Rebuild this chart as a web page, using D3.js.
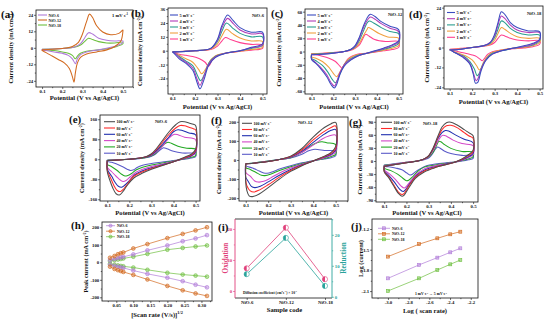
<!DOCTYPE html>
<html lang="en">
<head>
<meta charset="UTF-8">
<title>NiO electrochemistry panels</title>
<script src="https://d3js.org/d3.v7.min.js"></script>
<style>
  body { margin: 0; background: #fff; }
  svg { display: block; }
</style>
</head>
<body>
<svg id="chart" width="550" height="321"></svg>
<script>
// ---------- data ----------
const samples = ["NiO-6", "NiO-12", "NiO-18"];
const sampleColors = ["#b07bd8", "#d2691e", "#6ebf3f"];

const lowRates = ["5", "4", "3", "2", "1"];
const lowColors = ["#3b4cc0", "#b13bb8", "#2a9d8f", "#f0a040", "#ff3f8e"];
const highRates = ["100", "80", "60", "40", "20", "10"];
const highColors = ["#4d4d4d", "#ff2a2a", "#1f2faf", "#d348c8", "#23a823", "#5a5ac8"];

// (a) 1 mV/s, [potential V, current mA cm-2]
const aNiO6 = [[0.10,-1],[0.20,-0.5],[0.26,0.5],[0.29,3],[0.31,7],[0.33,11],[0.35,10],[0.38,7],[0.42,5.5],[0.46,5],[0.50,5],[0.50,4],[0.47,1.5],[0.43,0],[0.38,-1.5],[0.32,-3],[0.29,-5],[0.275,-8],[0.265,-11.5],[0.25,-8],[0.23,-5.5],[0.20,-4],[0.16,-3],[0.12,-2],[0.10,-1.5]];
const aNiO12 = [[0.10,-1.5],[0.15,-1],[0.20,-0.5],[0.25,1],[0.28,4],[0.30,10],[0.32,19],[0.335,24.5],[0.35,22],[0.37,16],[0.40,11.5],[0.44,9.5],[0.48,10.5],[0.50,13],[0.50,12],[0.49,5],[0.46,1],[0.42,-1.5],[0.37,-3],[0.32,-4.5],[0.29,-7],[0.275,-11],[0.265,-18],[0.258,-25],[0.25,-21],[0.235,-15],[0.21,-11],[0.18,-8.5],[0.15,-6],[0.12,-3.5],[0.10,-2]];
const aNiO18 = [[0.10,-1],[0.20,-0.5],[0.26,0.5],[0.29,2],[0.31,4.5],[0.33,7],[0.35,6],[0.38,4.5],[0.42,3.5],[0.46,3.5],[0.50,4],[0.50,3],[0.47,1],[0.43,-0.5],[0.38,-1.5],[0.32,-2.5],[0.29,-4],[0.275,-6],[0.265,-8],[0.25,-5.5],[0.23,-4],[0.20,-3],[0.16,-2],[0.12,-1.5],[0.10,-1]];

// (b) NiO-6, 5..1 mV/s
const b5 = [[0.10,-1],[0.20,0],[0.27,2],[0.30,10],[0.32,22],[0.345,31],[0.37,26],[0.40,20],[0.45,16],[0.50,16],[0.50,6],[0.45,3],[0.40,0],[0.34,-2],[0.29,-6],[0.26,-13],[0.24,-25],[0.222,-33],[0.21,-28],[0.19,-17],[0.16,-11],[0.13,-7],[0.11,-3]];
const b4 = [[0.10,-1],[0.20,0],[0.27,2],[0.30,9],[0.32,20],[0.345,28],[0.37,23.5],[0.40,18],[0.45,14.5],[0.50,14.5],[0.50,5],[0.45,2.5],[0.40,0],[0.34,-2],[0.29,-5.5],[0.26,-12],[0.24,-22],[0.222,-30],[0.21,-25],[0.19,-15],[0.16,-10],[0.13,-6],[0.11,-2]];
const b3 = [[0.10,-1],[0.20,0],[0.27,2],[0.30,8],[0.32,17],[0.34,24],[0.365,20],[0.40,15],[0.45,12],[0.50,12],[0.50,4.5],[0.45,2],[0.40,0],[0.34,-2],[0.29,-5],[0.26,-11],[0.245,-19],[0.225,-26],[0.21,-21],[0.19,-13],[0.16,-9],[0.13,-5],[0.11,-2]];
const b2 = [[0.10,-1],[0.20,0],[0.27,1.5],[0.30,6],[0.32,13],[0.34,18.5],[0.365,15],[0.40,11],[0.45,8.5],[0.50,8],[0.50,3],[0.45,1],[0.40,-0.5],[0.34,-2],[0.29,-4.5],[0.27,-8],[0.25,-15],[0.23,-20],[0.215,-16],[0.19,-10],[0.16,-7],[0.13,-4],[0.11,-2]];
const b1 = [[0.10,-1],[0.20,0],[0.27,1],[0.30,4],[0.32,8.5],[0.335,11.5],[0.36,9.5],[0.40,7],[0.45,5.5],[0.50,5],[0.50,2],[0.45,0.5],[0.40,-0.5],[0.34,-2],[0.30,-4],[0.28,-7],[0.26,-13.5],[0.245,-10],[0.22,-7],[0.19,-5],[0.16,-4],[0.13,-3],[0.11,-1.5]];

// (c) NiO-12, 5..1 mV/s
const c5 = [[0.10,-5],[0.15,-4],[0.20,-2.5],[0.25,0],[0.28,3],[0.30,9],[0.32,22],[0.34,40],[0.36,53],[0.37,56],[0.39,53],[0.42,45],[0.46,38],[0.50,33],[0.50,16],[0.47,10],[0.43,5],[0.39,1],[0.35,-3],[0.31,-7],[0.28,-13],[0.25,-22],[0.23,-35],[0.215,-50],[0.205,-55],[0.19,-50],[0.17,-38],[0.14,-25],[0.12,-18],[0.10,-12]];
const c4 = [[0.10,-5],[0.15,-4],[0.20,-2.5],[0.25,0],[0.28,3],[0.30,8],[0.32,20],[0.34,37],[0.36,49],[0.37,52],[0.39,49],[0.42,42],[0.46,35],[0.50,30],[0.50,14],[0.47,9],[0.43,4],[0.39,0.5],[0.35,-3],[0.31,-7],[0.28,-12],[0.25,-20],[0.23,-32],[0.215,-46],[0.205,-52],[0.19,-47],[0.17,-35],[0.14,-23],[0.12,-17],[0.10,-11]];
const c3 = [[0.10,-4],[0.15,-3.5],[0.20,-2],[0.25,0],[0.28,3],[0.30,7],[0.32,17],[0.34,32],[0.355,43],[0.365,46],[0.385,43],[0.42,36],[0.46,30],[0.50,27],[0.50,12],[0.47,7],[0.43,3],[0.39,0],[0.35,-3],[0.31,-6],[0.28,-11],[0.255,-18],[0.235,-30],[0.22,-42],[0.21,-47],[0.195,-42],[0.175,-31],[0.15,-21],[0.12,-14],[0.10,-10]];
const c2 = [[0.10,-3.5],[0.15,-3],[0.20,-2],[0.25,0],[0.28,2.5],[0.30,6],[0.32,13],[0.34,25],[0.355,33],[0.36,36],[0.38,33],[0.41,27],[0.45,22],[0.50,20],[0.50,9],[0.47,5],[0.43,2],[0.39,-0.5],[0.35,-3],[0.31,-5],[0.28,-9],[0.26,-15],[0.24,-25],[0.225,-34],[0.215,-38],[0.20,-33],[0.18,-24],[0.15,-15],[0.12,-10],[0.10,-8]];
const c1 = [[0.10,-3],[0.15,-2.5],[0.20,-1.5],[0.25,0],[0.28,2],[0.30,5],[0.32,10],[0.335,19],[0.345,25],[0.35,26],[0.365,23],[0.39,18],[0.44,15],[0.50,15],[0.50,6],[0.47,3],[0.43,1],[0.39,-1],[0.35,-2.5],[0.31,-4],[0.285,-7],[0.265,-12],[0.25,-20],[0.24,-25],[0.23,-22],[0.21,-15],[0.18,-10],[0.15,-7],[0.12,-5],[0.10,-4]];

// (d) NiO-18, 5..1 mV/s
const d5 = [[0.10,-1.5],[0.15,-1],[0.20,0],[0.25,1],[0.28,3],[0.30,8],[0.315,15],[0.33,21.5],[0.345,20],[0.37,15],[0.40,12],[0.45,10],[0.50,9.5],[0.50,5],[0.47,2.5],[0.43,1],[0.38,-0.5],[0.33,-2],[0.29,-4],[0.26,-8],[0.24,-14],[0.225,-21],[0.215,-21.5],[0.205,-16],[0.19,-10],[0.16,-6],[0.13,-3.5],[0.115,-2.5],[0.105,-1.5]];
const d4 = [[0.10,-1.5],[0.15,-1],[0.20,0],[0.25,1],[0.28,3],[0.30,7],[0.315,13.5],[0.33,19],[0.345,17.5],[0.37,13.5],[0.40,10.5],[0.45,9],[0.50,9],[0.50,4.5],[0.47,2],[0.43,0.5],[0.38,-0.5],[0.33,-2],[0.29,-4],[0.26,-7.5],[0.24,-13],[0.225,-19],[0.218,-20],[0.205,-15],[0.19,-9.5],[0.16,-5.5],[0.13,-3.5],[0.115,-2.5],[0.105,-1.5]];
const d3s = [[0.10,-1.5],[0.15,-1],[0.20,0],[0.25,1],[0.28,2.5],[0.30,6],[0.315,11],[0.33,16],[0.345,15],[0.37,11.5],[0.40,9],[0.45,7.5],[0.50,7.5],[0.50,4],[0.47,1.5],[0.43,0.5],[0.38,-0.5],[0.33,-2],[0.29,-3.5],[0.265,-6.5],[0.245,-11],[0.23,-16],[0.222,-17],[0.21,-13],[0.19,-8.5],[0.16,-5],[0.13,-3.5],[0.115,-2.5],[0.105,-1.5]];
const d2 = [[0.10,-1.2],[0.15,-0.8],[0.20,0],[0.25,1],[0.28,2],[0.30,4.5],[0.315,8.5],[0.33,12],[0.345,11],[0.37,8.5],[0.40,6.5],[0.45,5.5],[0.50,5.5],[0.50,3],[0.47,1],[0.43,0],[0.38,-0.5],[0.33,-1.5],[0.29,-3],[0.27,-5],[0.25,-9],[0.24,-12.5],[0.232,-13.5],[0.22,-11],[0.20,-7.5],[0.17,-5],[0.14,-3.5],[0.12,-2.5],[0.105,-1.5]];
const d1 = [[0.10,-1],[0.15,-0.5],[0.20,0],[0.25,0.8],[0.28,1.5],[0.30,3],[0.315,5.5],[0.33,7.5],[0.345,7],[0.37,5.5],[0.40,4.5],[0.45,4],[0.50,4],[0.50,2],[0.47,0.5],[0.43,-0.3],[0.38,-0.8],[0.33,-1.5],[0.29,-2.5],[0.27,-4],[0.255,-6.5],[0.245,-8],[0.235,-7],[0.22,-5.5],[0.20,-4.5],[0.17,-3.5],[0.14,-2.5],[0.12,-2],[0.105,-1.2]];

// (e) NiO-6, 100..10 mV/s
const e100 = [[0.10,-5],[0.15,-3],[0.20,0],[0.25,5],[0.28,12],[0.30,22],[0.32,40],[0.35,75],[0.38,110],[0.41,138],[0.43,150],[0.45,150],[0.47,145],[0.49,140],[0.50,135],[0.50,40],[0.48,20],[0.45,8],[0.40,-10],[0.35,-25],[0.30,-40],[0.26,-55],[0.22,-75],[0.19,-105],[0.17,-130],[0.155,-143],[0.14,-138],[0.125,-115],[0.11,-80],[0.10,-50]];
const e80 = [[0.10,-5],[0.15,-3],[0.20,0],[0.25,5],[0.28,11],[0.30,20],[0.32,36],[0.35,68],[0.38,100],[0.41,125],[0.43,135],[0.45,134],[0.47,128],[0.49,122],[0.50,118],[0.50,35],[0.48,17],[0.45,6],[0.40,-10],[0.35,-24],[0.30,-37],[0.26,-50],[0.22,-68],[0.195,-95],[0.175,-118],[0.16,-129],[0.145,-125],[0.13,-105],[0.115,-75],[0.10,-45]];
const e60 = [[0.10,-5],[0.15,-3],[0.20,0],[0.25,5],[0.28,10],[0.30,18],[0.32,32],[0.35,60],[0.38,90],[0.40,110],[0.42,118],[0.44,115],[0.47,105],[0.50,98],[0.50,30],[0.48,14],[0.45,5],[0.40,-10],[0.35,-22],[0.30,-34],[0.26,-46],[0.225,-62],[0.20,-85],[0.18,-103],[0.165,-112],[0.15,-108],[0.135,-92],[0.12,-68],[0.10,-40]];
const e40 = [[0.10,-5],[0.15,-3],[0.20,0],[0.25,5],[0.28,10],[0.30,16],[0.32,28],[0.35,52],[0.37,75],[0.39,93],[0.405,100],[0.42,98],[0.45,88],[0.50,78],[0.50,25],[0.48,12],[0.45,4],[0.40,-8],[0.35,-19],[0.30,-29],[0.26,-40],[0.23,-52],[0.205,-70],[0.185,-85],[0.172,-89],[0.16,-84],[0.14,-68],[0.12,-50],[0.10,-32]];
const e20 = [[0.10,-4],[0.15,-2],[0.20,0],[0.25,4],[0.28,8],[0.30,14],[0.32,25],[0.34,45],[0.36,62],[0.375,68],[0.39,64],[0.42,52],[0.46,44],[0.50,40],[0.50,15],[0.48,8],[0.45,2],[0.40,-7],[0.35,-15],[0.30,-23],[0.26,-32],[0.23,-43],[0.21,-57],[0.19,-66],[0.18,-67],[0.165,-60],[0.145,-45],[0.12,-30],[0.10,-20]];
const e10 = [[0.10,-3],[0.15,-2],[0.20,0],[0.25,3],[0.28,7],[0.30,12],[0.32,22],[0.34,38],[0.355,46],[0.37,42],[0.40,32],[0.44,25],[0.50,22],[0.50,10],[0.48,5],[0.45,0],[0.40,-5],[0.35,-11],[0.30,-17],[0.26,-24],[0.235,-33],[0.22,-42],[0.205,-45],[0.19,-40],[0.17,-30],[0.14,-18],[0.12,-12],[0.10,-8]];

// (f) NiO-12, 100..10 mV/s
const f100 = [[0.10,-20],[0.15,-15],[0.20,-8],[0.25,2],[0.30,20],[0.35,60],[0.40,120],[0.45,170],[0.48,190],[0.50,197],[0.50,70],[0.48,40],[0.45,20],[0.40,-5],[0.35,-30],[0.30,-60],[0.25,-100],[0.20,-145],[0.16,-178],[0.13,-192],[0.115,-188],[0.105,-160],[0.10,-120]];
const f80 = [[0.10,-20],[0.15,-15],[0.20,-8],[0.25,2],[0.30,18],[0.35,52],[0.40,105],[0.45,150],[0.48,170],[0.50,178],[0.50,60],[0.48,35],[0.45,18],[0.40,-5],[0.35,-28],[0.30,-55],[0.25,-90],[0.20,-130],[0.16,-158],[0.135,-168],[0.12,-162],[0.105,-135],[0.10,-105]];
const f60 = [[0.10,-20],[0.15,-15],[0.20,-8],[0.25,2],[0.30,16],[0.35,46],[0.40,92],[0.45,135],[0.48,155],[0.50,160],[0.50,52],[0.48,30],[0.45,15],[0.40,-5],[0.35,-25],[0.30,-50],[0.25,-80],[0.20,-115],[0.165,-138],[0.14,-145],[0.125,-138],[0.11,-110],[0.10,-90]];
const f40 = [[0.10,-20],[0.15,-15],[0.20,-7],[0.25,2],[0.30,14],[0.35,40],[0.40,78],[0.44,110],[0.47,125],[0.50,130],[0.50,42],[0.48,25],[0.45,12],[0.40,-5],[0.35,-22],[0.30,-42],[0.25,-68],[0.21,-95],[0.18,-112],[0.155,-116],[0.14,-110],[0.12,-85],[0.10,-65]];
const f20 = [[0.10,-20],[0.15,-14],[0.20,-6],[0.25,2],[0.30,12],[0.35,40],[0.39,75],[0.42,92],[0.44,95],[0.46,90],[0.50,80],[0.50,30],[0.48,18],[0.45,8],[0.40,-5],[0.35,-18],[0.30,-35],[0.25,-55],[0.21,-75],[0.185,-82],[0.17,-80],[0.15,-68],[0.12,-50],[0.10,-40]];
const f10 = [[0.10,-20],[0.15,-14],[0.20,-6],[0.25,2],[0.30,10],[0.35,30],[0.38,48],[0.40,55],[0.42,55],[0.45,50],[0.50,45],[0.50,22],[0.48,12],[0.45,5],[0.40,-4],[0.35,-15],[0.30,-30],[0.25,-48],[0.22,-62],[0.195,-70],[0.18,-68],[0.16,-58],[0.13,-42],[0.10,-30]];

// (g) NiO-18, 100..10 mV/s
const g100 = [[0.10,-12],[0.15,-8],[0.20,-4],[0.25,0],[0.28,5],[0.30,12],[0.32,30],[0.34,55],[0.36,78],[0.38,88],[0.40,89],[0.43,82],[0.46,72],[0.48,65],[0.50,58],[0.50,25],[0.48,15],[0.45,5],[0.42,-2],[0.38,-8],[0.33,-15],[0.28,-25],[0.24,-40],[0.21,-62],[0.19,-78],[0.18,-81],[0.165,-75],[0.14,-55],[0.12,-38],[0.10,-25]];
const g80 = [[0.10,-12],[0.15,-8],[0.20,-4],[0.25,0],[0.28,5],[0.30,12],[0.32,28],[0.34,52],[0.36,72],[0.38,81],[0.40,82],[0.43,76],[0.46,65],[0.48,58],[0.50,52],[0.50,22],[0.48,13],[0.45,4],[0.42,-2],[0.38,-8],[0.33,-14],[0.28,-23],[0.24,-37],[0.21,-58],[0.19,-74],[0.18,-77],[0.165,-72],[0.14,-52],[0.12,-36],[0.10,-24]];
const g60 = [[0.10,-12],[0.15,-8],[0.20,-4],[0.25,0],[0.28,5],[0.30,12],[0.32,27],[0.34,50],[0.36,65],[0.375,70],[0.39,69],[0.42,60],[0.46,50],[0.50,42],[0.50,18],[0.48,10],[0.45,3],[0.42,-2],[0.38,-7],[0.33,-13],[0.28,-21],[0.245,-33],[0.215,-52],[0.195,-66],[0.185,-70],[0.17,-65],[0.145,-48],[0.12,-33],[0.10,-22]];
const g40 = [[0.10,-11],[0.15,-7],[0.20,-3],[0.25,0],[0.28,4],[0.30,10],[0.32,24],[0.34,44],[0.355,56],[0.365,59],[0.38,57],[0.41,48],[0.45,40],[0.50,35],[0.50,15],[0.48,8],[0.45,2],[0.42,-2],[0.38,-6],[0.33,-11],[0.28,-18],[0.25,-28],[0.22,-45],[0.20,-58],[0.19,-62],[0.175,-57],[0.15,-42],[0.125,-30],[0.10,-20]];
const g20 = [[0.10,-10],[0.15,-7],[0.20,-3],[0.25,0],[0.28,4],[0.30,9],[0.32,20],[0.335,35],[0.345,45],[0.355,44],[0.37,38],[0.40,29],[0.45,22],[0.50,20],[0.50,10],[0.48,5],[0.45,1],[0.42,-2],[0.38,-5],[0.33,-9],[0.28,-14],[0.255,-22],[0.23,-35],[0.21,-44],[0.20,-45],[0.185,-40],[0.16,-30],[0.13,-22],[0.10,-16]];
const g10 = [[0.10,-9],[0.15,-6],[0.20,-3],[0.25,0],[0.28,3],[0.30,7],[0.315,15],[0.33,27],[0.34,32],[0.35,30],[0.37,23],[0.40,17],[0.45,13],[0.50,12],[0.50,6],[0.48,3],[0.45,0],[0.42,-2],[0.38,-4],[0.33,-7],[0.29,-11],[0.265,-17],[0.24,-25],[0.225,-31],[0.215,-32],[0.20,-27],[0.18,-20],[0.15,-16],[0.12,-13],[0.10,-12]];

// (h) peak current vs sqrt(scan rate), 1..5, 10..100 mV/s
const sqrtRate = [0.0316,0.0447,0.0548,0.0632,0.0707,0.1,0.1414,0.2,0.2449,0.2828,0.3162];
const hAnodic6  = [12,19,24,28,31,45,68,96,120,136,155];
const hAnodic12 = [26,36,46,52,56,79,104,138,162,182,200];
const hAnodic18 = [7,12,16,19,22,32,48,72,82,90,96];
const hCath6  = [-13,-20,-25,-29,-32,-47,-66,-88,-108,-128,-143];
const hCath12 = [-25,-38,-45,-50,-55,-72,-98,-135,-160,-178,-192];
const hCath18 = [-9,-14,-18,-21,-23,-30,-43,-60,-70,-76,-82];

// (i) diffusion coefficients (x 10^-7 cm2 s-1)
const oxidation = [7.3, 20.4, 3.8];
const reduction = [7.3, 19.0, 3.5];

// (j) log(current) vs log(scan rate), 1..5 mV/s
const logRate = [-3.0, -2.699, -2.523, -2.398, -2.301];
const jNiO6  = [-1.915, -1.72, -1.615, -1.538, -1.48];
const jNiO12 = [-1.60, -1.42, -1.335, -1.277, -1.239];
const jNiO18 = [-2.098, -1.915, -1.794, -1.712, -1.65];

// ---------- drawing ----------
const FONT = "'Liberation Serif','Times New Roman',serif";
const INK = "#111";
const TICK_FS = 4.8;
const svg = d3.select("#chart");
let clipId = 0;

// text with ["sup"] parts raised
function rich(sel, parts, fs) {
  let up = false;
  parts.forEach(p => {
    const sup = Array.isArray(p);
    const t = sel.append("tspan").text(sup ? p[0] : p);
    if (sup) { t.attr("font-size", fs * 0.65); if (!up) t.attr("dy", -fs * 0.38); up = true; }
    else { if (up) t.attr("dy", fs * 0.38); up = false; }
  });
}

function txt(x, y, parts, fs, opt = {}) {
  const t = svg.append("text").attr("x", x).attr("y", y)
    .attr("font-size", fs).attr("font-weight", "bold").attr("font-family", FONT)
    .attr("text-anchor", opt.anchor || "start").attr("fill", opt.fill || INK);
  if (opt.rot) t.attr("transform", `rotate(${opt.rot},${x},${y})`);
  rich(t, typeof parts === "string" ? [parts] : parts, fs);
  return t;
}

function minors(ticks, dom) {
  const lo = Math.min(dom[0], dom[1]), hi = Math.max(dom[0], dom[1]);
  const step = ticks[1] - ticks[0], out = [];
  for (let v = ticks[0] - step * 1.5; v <= hi + 1e-9; v += step) if (v >= lo) out.push(v);
  return out;
}

function styleAxis(a, col) {
  a.attr("font-size", TICK_FS).attr("font-family", FONT).attr("font-weight", "bold");
  a.select(".domain").remove();
  a.selectAll("line").attr("stroke", col || INK).attr("stroke-width", 0.6);
  a.selectAll("text").attr("fill", col || INK);
}

function bottomAxis(box, x, xt, xf) {
  svg.append("g").attr("transform", `translate(0,${box.b})`)
    .call(d3.axisBottom(x).tickValues(minors(xt, x.domain())).tickFormat(() => "").tickSize(1.2))
    .call(a => styleAxis(a));
  svg.append("g").attr("transform", `translate(0,${box.b})`)
    .call(d3.axisBottom(x).tickValues(xt).tickFormat(xf).tickSize(2).tickPadding(0.6))
    .call(a => styleAxis(a));
}

function leftAxis(box, y, yt, yf, col) {
  svg.append("g").attr("transform", `translate(${box.l},0)`)
    .call(d3.axisLeft(y).tickValues(minors(yt, y.domain())).tickFormat(() => "").tickSize(1.2))
    .call(a => styleAxis(a, col));
  svg.append("g").attr("transform", `translate(${box.l},0)`)
    .call(d3.axisLeft(y).tickValues(yt).tickFormat(yf).tickSize(2).tickPadding(0.8))
    .call(a => styleAxis(a, col));
}

function frame(box) {
  svg.append("rect").attr("x", box.l).attr("y", box.t)
    .attr("width", box.r - box.l).attr("height", box.b - box.t)
    .attr("fill", "none").attr("stroke", INK).attr("stroke-width", 0.8);
}

function clipFor(box) {
  const id = "clip" + (clipId++);
  svg.append("clipPath").attr("id", id).append("rect")
    .attr("x", box.l).attr("y", box.t).attr("width", box.r - box.l).attr("height", box.b - box.t);
  return svg.append("g").attr("clip-path", `url(#${id})`);
}

const POT_LABEL = "Potential (V vs Ag/AgCl)";
const CUR_LABEL = ["Current density (mA cm", ["-2"], ")"];
const fmt1 = d => d.toFixed(1);
const fmtInt = d => String(d);

function cvPanel(p) {
  const x = d3.scaleLinear().domain(p.xDom).range([p.box.l, p.box.r]);
  const y = d3.scaleLinear().domain(p.yDom).range([p.box.b, p.box.t]);
  bottomAxis(p.box, x, [0.1, 0.2, 0.3, 0.4, 0.5], fmt1);
  leftAxis(p.box, y, p.yt, fmtInt);
  const g = clipFor(p.box);
  const line = d3.line().x(d => x(d[0])).y(d => y(d[1])).curve(d3.curveCatmullRom.alpha(0.5));
  p.series.forEach((s, i) => {
    g.append("path").attr("d", line(s.concat([s[0]])))
      .attr("fill", "none").attr("stroke", p.colors[i]).attr("stroke-width", 1.05)
      .attr("stroke-linejoin", "round");
  });
  frame(p.box);
  // legend
  p.legend.forEach((lab, i) => {
    const yy = p.leg.y + i * p.leg.dy;
    svg.append("line").attr("x1", p.leg.x).attr("x2", p.leg.x + p.leg.len)
      .attr("y1", yy).attr("y2", yy).attr("stroke", p.legColors[i]).attr("stroke-width", 1.1);
    txt(p.leg.x + p.leg.len + 1.5, yy + 1.5, lab, p.leg.fs);
  });
  if (p.title) txt(p.title[0], p.title[1], p.title[2], 4.6);
  txt(p.letter[0], p.letter[1], p.letter[2], 11);
  txt(p.ylab, (p.box.t + p.box.b) / 2, CUR_LABEL, 6.2, { anchor: "middle", rot: -90 });
  txt((p.box.l + p.box.r) / 2, p.xlab, POT_LABEL, 6.6, { anchor: "middle" });
}

const lowLegend = lowRates.map(r => [r + " mV s", ["-1"]]);
const highLegend = highRates.map(r => [r + " mV s", ["-1"]]);

// (a)
cvPanel({
  box: { l: 36, t: 10, r: 133, b: 87 }, xDom: [0.07, 0.55], yDom: [-28.5, 27.5],
  yt: [-24, -12, 0, 12, 24],
  series: [aNiO18, aNiO6, aNiO12], colors: [sampleColors[2], sampleColors[0], sampleColors[1]],
  legend: samples, legColors: sampleColors, leg: { x: 38, y: 15, dy: 5, len: 9, fs: 4 },
  title: [112, 17, ["1 mV s", ["-1"]]], letter: [1, 18, "(a)"], ylab: 13, xlab: 100
});
// (b)
cvPanel({
  box: { l: 168, t: 8, r: 267, b: 94 }, xDom: [0.08, 0.52], yDom: [-37.5, 37],
  yt: [-24, -12, 0, 12, 24, 36],
  series: [b1, b2, b3, b4, b5], colors: lowColors.slice().reverse(),
  legend: lowLegend, legColors: lowColors, leg: { x: 170, y: 15, dy: 6, len: 8, fs: 4.3 },
  title: [252, 17, "NiO-6"], letter: [131, 17, "(b)"], ylab: 142, xlab: 108.5
});
// (c)
cvPanel({
  box: { l: 305, t: 9, r: 403, b: 94 }, xDom: [0.07, 0.52], yDom: [-64, 64],
  yt: [-60, -40, -20, 0, 20, 40, 60],
  series: [c1, c2, c3, c4, c5], colors: lowColors.slice().reverse(),
  legend: lowLegend, legColors: lowColors, leg: { x: 307, y: 15, dy: 6, len: 9, fs: 4.3 },
  title: [388, 16, "NiO-12"], letter: [271, 17, "(c)"], ylab: 281, xlab: 108.5
});
// (d)
cvPanel({
  box: { l: 444, t: 6, r: 543, b: 89 }, xDom: [0.075, 0.515], yDom: [-25, 25],
  yt: [-24, -12, 0, 12, 24],
  series: [d1, d2, d3s, d4, d5], colors: lowColors.slice().reverse(),
  legend: lowLegend, legColors: lowColors, leg: { x: 447, y: 12.5, dy: 6.2, len: 8, fs: 4.3 },
  title: [527, 15, "NiO-18"], letter: [409, 18, "(d)"], ylab: 429, xlab: 103.5
});
// (e)
cvPanel({
  box: { l: 100, t: 115, r: 200, b: 201 }, xDom: [0.067, 0.52], yDom: [-167, 177],
  yt: [-160, -80, 0, 80, 160],
  series: [e10, e20, e40, e60, e80, e100], colors: highColors.slice().reverse(),
  legend: highLegend, legColors: highColors, leg: { x: 104, y: 121.7, dy: 6.3, len: 11, fs: 4 },
  title: [155, 123, "NiO-6"], letter: [69, 123, "(e)"], ylab: 84, xlab: 214.5
});
// (f)
cvPanel({
  box: { l: 239, t: 117, r: 348, b: 201 }, xDom: [0.07, 0.555], yDom: [-215, 225],
  yt: [-200, -100, 0, 100, 200],
  series: [f10, f20, f40, f60, f80, f100], colors: highColors.slice().reverse(),
  legend: highLegend, legColors: highColors, leg: { x: 242, y: 123.3, dy: 6.2, len: 10, fs: 4 },
  title: [298, 124, "NiO-12"], letter: [211, 124, "(f)"], ylab: 221, xlab: 214.5
});
// (g)
cvPanel({
  box: { l: 376, t: 117, r: 478, b: 202 }, xDom: [0.063, 0.522], yDom: [-94, 101],
  yt: [-90, -60, -30, 0, 30, 60, 90],
  series: [g10, g20, g40, g60, g80, g100], colors: highColors.slice().reverse(),
  legend: highLegend, legColors: highColors, leg: { x: 381, y: 122.3, dy: 6.2, len: 11, fs: 4 },
  title: [423, 125, "NiO-18"], letter: [349, 126, "(g)"], ylab: 362, xlab: 215
});

// (h)
(function () {
  const box = { l: 102, t: 222, r: 212, b: 301 };
  const x = d3.scaleLinear().domain([0.008, 0.331]).range([box.l, box.r]);
  const y = d3.scaleLinear().domain([-221, 230]).range([box.b, box.t]);
  bottomAxis(box, x, [0.05, 0.10, 0.15, 0.20, 0.25, 0.30], d => d.toFixed(2));
  leftAxis(box, y, [-200, -100, 0, 100, 200], fmtInt);
  const g = clipFor(box);
  const line = d3.line().x((d, i) => x(sqrtRate[i])).y(d => y(d));
  const sets = [[hAnodic18, hCath18, 2], [hAnodic6, hCath6, 0], [hAnodic12, hCath12, 1]];
  sets.forEach(([an, ca, k]) => {
    [an, ca].forEach(vals => {
      g.append("path").attr("d", line(vals)).attr("fill", "none")
        .attr("stroke", sampleColors[k]).attr("stroke-width", 0.7);
      g.selectAll(null).data(vals).enter().append("circle")
        .attr("cx", (d, i) => x(sqrtRate[i])).attr("cy", d => y(d)).attr("r", 1.9)
        .attr("fill", sampleColors[k]).attr("fill-opacity", 0.45)
        .attr("stroke", sampleColors[k]).attr("stroke-width", 0.6);
    });
  });
  frame(box);
  samples.forEach((s, i) => {
    const yy = 225.7 + i * 5.5;
    svg.append("line").attr("x1", 106).attr("x2", 115).attr("y1", yy).attr("y2", yy)
      .attr("stroke", sampleColors[i]).attr("stroke-width", 0.7);
    svg.append("circle").attr("cx", 110.5).attr("cy", yy).attr("r", 1.6)
      .attr("fill", sampleColors[i]).attr("fill-opacity", 0.45).attr("stroke", sampleColors[i]).attr("stroke-width", 0.6);
    txt(117, yy + 1.4, s, 4);
  });
  txt(71, 229, "(h)", 11);
  txt(88, (box.t + box.b) / 2, ["Peak current (mA cm", ["-2"], ")"], 6.2, { anchor: "middle", rot: -90 });
  txt((box.l + box.r) / 2, 316.5, ["[Scan rate (V/s)]", ["1/2"]], 6.6, { anchor: "middle" });
})();

// (i)
(function () {
  const box = { l: 235, t: 219, r: 332, b: 298 };
  const pink = "#e0407a", teal = "#2aa39b";
  const x = d3.scalePoint().domain(samples).range([246.7, 325]);
  const yL = d3.scaleLinear().domain([-2.26, 23.2]).range([box.b, box.t]);
  const yR = d3.scaleLinear().domain([-0.4, 25.1]).range([box.b, box.t]);
  svg.append("g").attr("transform", `translate(0,${box.b})`)
    .call(d3.axisBottom(x).tickSize(2).tickPadding(0.8)).call(a => styleAxis(a));
  leftAxis(box, yL, [0, 10, 20], fmtInt, pink);
  svg.append("g").attr("transform", `translate(${box.r},0)`)
    .call(d3.axisRight(yR).tickValues(minors([0, 10, 20], yR.domain())).tickFormat(() => "").tickSize(1.2))
    .call(a => styleAxis(a, teal));
  svg.append("g").attr("transform", `translate(${box.r},0)`)
    .call(d3.axisRight(yR).tickValues([0, 10, 20]).tickFormat(fmtInt).tickSize(2).tickPadding(0.8))
    .call(a => styleAxis(a, teal));
  svg.append("line").attr("x1", box.l).attr("x2", box.r).attr("y1", box.t).attr("y2", box.t).attr("stroke", INK).attr("stroke-width", 0.8);
  svg.append("line").attr("x1", box.l).attr("x2", box.r).attr("y1", box.b).attr("y2", box.b).attr("stroke", INK).attr("stroke-width", 0.8);
  svg.append("line").attr("x1", box.l).attr("x2", box.l).attr("y1", box.t).attr("y2", box.b).attr("stroke", pink).attr("stroke-width", 0.9);
  svg.append("line").attr("x1", box.r).attr("x2", box.r).attr("y1", box.t).attr("y2", box.b).attr("stroke", teal).attr("stroke-width", 0.9);

  const halfDot = (cx, cy, col) => {
    const r = 2.6;
    svg.append("circle").attr("cx", cx).attr("cy", cy).attr("r", r).attr("fill", "#fff").attr("stroke", col).attr("stroke-width", 0.6);
    svg.append("path").attr("d", `M${cx},${cy - r}A${r},${r} 0 0,0 ${cx},${cy + r}Z`).attr("fill", col);
  };
  [[oxidation, yL, pink], [reduction, yR, teal]].forEach(([vals, ys, col]) => {
    svg.append("path").attr("d", d3.line().x((d, i) => x(samples[i])).y(d => ys(d))(vals))
      .attr("fill", "none").attr("stroke", col).attr("stroke-width", 0.8);
    vals.forEach((v, i) => halfDot(x(samples[i]), ys(v), col));
  });
  txt(243, 293.5, ["Diffusion coefficient (cm", ["2"], "s", ["-1"], ") × 10", ["-7"]], 3.7);
  txt(218, 231, "(i)", 11);
  txt(228, 258, "Oxidation", 7.2, { anchor: "middle", rot: -90, fill: pink });
  txt(346, 258, "Reduction", 7.2, { anchor: "middle", rot: -90, fill: teal });
  txt((box.l + box.r) / 2 + 1, 311.5, "Sample code", 6.6, { anchor: "middle" });
})();

// (j)
(function () {
  const box = { l: 372, t: 219, r: 478, b: 298 };
  const x = d3.scaleLinear().domain([-3.154, -2.13]).range([box.l, box.r]);
  const y = d3.scaleLinear().domain([-2.2, -1.055]).range([box.b, box.t]);
  bottomAxis(box, x, [-3.0, -2.8, -2.6, -2.4, -2.2], fmt1);
  leftAxis(box, y, [-2.1, -1.8, -1.5, -1.2], fmt1);
  const line = d3.line().x((d, i) => x(logRate[i])).y(d => y(d));
  const sq = (cx, cy, col) => svg.append("rect").attr("x", cx - 1.5).attr("y", cy - 1.5)
    .attr("width", 3).attr("height", 3).attr("fill", col).attr("fill-opacity", 0.5)
    .attr("stroke", col).attr("stroke-width", 0.6);
  [jNiO6, jNiO12, jNiO18].forEach((vals, k) => {
    svg.append("path").attr("d", line(vals)).attr("fill", "none")
      .attr("stroke", sampleColors[k]).attr("stroke-width", 0.7);
    vals.forEach((v, i) => sq(x(logRate[i]), y(v), sampleColors[k]));
  });
  frame(box);
  samples.forEach((s, i) => {
    const yy = 228.3 + i * 5.5;
    svg.append("line").attr("x1", 378).attr("x2", 390).attr("y1", yy).attr("y2", yy)
      .attr("stroke", sampleColors[i]).attr("stroke-width", 0.7);
    sq(384, yy, sampleColors[i]);
    txt(392, yy + 1.4, s, 4);
  });
  txt(415, 295, ["1 mV s", ["-1"], " → 5 mV s", ["-1"]], 3.8);
  txt(351, 230, "(j)", 11);
  txt(363, (box.t + box.b) / 2, "Log (current)", 6.4, { anchor: "middle", rot: -90 });
  txt((box.l + box.r) / 2, 313, "Log ( scan rate)", 6.6, { anchor: "middle" });
})();
</script>
</body>
</html>
